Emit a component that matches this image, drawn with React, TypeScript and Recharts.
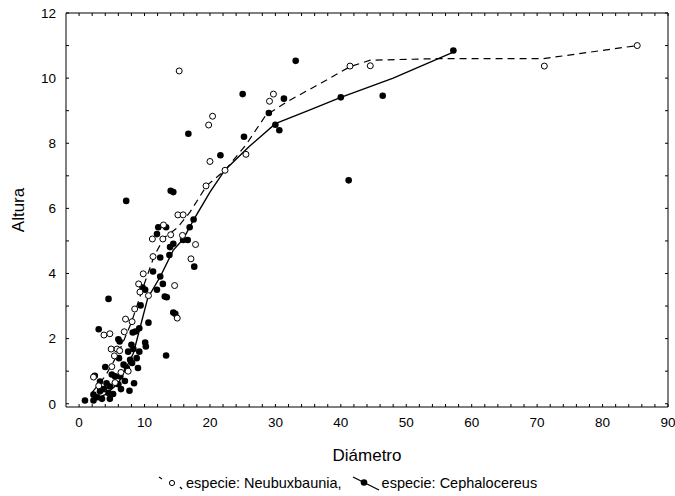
import React from 'react';
import { ScatterChart, Scatter, XAxis, YAxis } from 'recharts';

interface Pt {
	x: number;
	y: number;
}

// especie: Neubuxbaunia (open circles)
const neubuxX = [
	85.3, 71.1, 41.4, 44.5, 15.3, 29.7, 29.1, 20.4, 19.8, 25.5, 20.0, 22.3, 19.4,
	15.1, 15.9, 12.9, 11.2, 12.8, 14.0, 15.8, 17.8, 11.3, 17.1, 9.8, 9.1, 14.6,
	10.6, 9.3, 15.0, 8.5, 7.1, 8.1, 3.8, 4.7, 6.9, 4.9, 5.8, 6.2, 5.4, 5.0, 6.4,
	2.2, 3.0, 5.5, 7.5,
];
const neubuxY = [
	11.0, 10.37, 10.37, 10.38, 10.22, 9.51, 9.29, 8.83, 8.56, 7.66, 7.44, 7.17,
	6.69, 5.8, 5.8, 5.49, 5.06, 5.06, 5.19, 5.17, 4.89, 4.52, 4.45, 3.99, 3.68,
	3.63, 3.32, 3.43, 2.63, 2.91, 2.6, 2.52, 2.11, 2.15, 2.21, 1.68, 1.68, 1.63,
	1.47, 1.14, 0.96, 0.82, 0.55, 0.65, 1.0,
];

// especie: Cephalocereus (filled circles)
const cephaloX = [
	57.2, 40.0, 46.4, 41.2, 33.1, 25.0, 31.3, 16.7, 29.0, 30.0, 30.6, 25.2, 21.6,
	14.0, 14.4, 17.5, 7.2, 12.1, 13.3, 11.9, 16.9, 15.9, 16.6, 14.4, 13.9, 12.4,
	13.8, 17.6, 11.3, 12.4, 9.7, 10.1, 12.8, 13.1, 13.4, 4.5, 11.9, 9.4, 14.4,
	14.7, 10.6, 3.0, 8.2, 8.6, 9.2, 6.0, 6.2, 8.0, 8.3, 7.5, 10.1, 10.2, 9.2, 6.1,
	13.3, 7.8, 8.1, 4.0, 6.8, 7.3, 5.5, 6.3, 2.4, 8.4, 3.2, 4.2, 4.7, 5.2, 6.4,
	7.7, 2.2, 3.2, 4.5, 0.9, 2.2, 4.7, 3.5, 6.0, 7.0, 5.0, 3.8, 2.8, 9.0, 8.8,
];
const cephaloY = [
	10.85, 9.41, 9.46, 6.86, 10.53, 9.51, 9.37, 8.29, 8.93, 8.57, 8.4, 8.2, 7.63,
	6.54, 6.5, 5.66, 6.23, 5.42, 5.42, 5.21, 5.42, 5.03, 5.03, 4.91, 4.81, 4.49,
	4.57, 4.21, 4.06, 3.91, 3.57, 3.5, 3.68, 3.29, 3.27, 3.22, 3.5, 3.02, 2.8,
	2.76, 2.49, 2.29, 2.19, 2.22, 2.32, 1.98, 1.91, 1.81, 1.68, 1.6, 1.88, 1.76,
	1.6, 1.4, 1.48, 1.35, 1.25, 1.13, 1.2, 1.1, 0.84, 0.84, 0.86, 0.63, 0.68,
	0.63, 0.53, 0.3, 0.45, 0.4, 0.28, 0.38, 0.33, 0.1, 0.1, 0.15, 0.15, 0.6, 0.7,
	0.9, 0.45, 0.2, 1.1, 1.4,
];

// fitted curves
const neubuxFitX = [2, 4, 6, 8, 10, 11.5, 13, 15, 17, 19.5, 22.3, 25.5, 28.5, 32, 37, 41.4, 44.5, 55, 71, 85.3];
const neubuxFitY = [0.35, 0.85, 1.55, 2.5, 3.7, 4.55, 5.1, 5.4, 5.9, 6.7, 7.17, 7.95, 8.85, 9.3, 9.85, 10.35, 10.55, 10.6, 10.6, 11.0];
const cephaloFitX = [2, 4, 6, 8.3, 10.5, 12.4, 14.4, 15.9, 17.5, 20, 22.3, 26, 30, 35, 40, 48, 57.2];
const cephaloFitY = [0.1, 0.28, 0.63, 1.55, 3.25, 3.9, 4.72, 5.05, 5.65, 6.5, 7.18, 7.9, 8.6, 9.0, 9.41, 10.0, 10.8];

const xTicks = [0, 2, 4, 6, 8, 10, 12, 14, 16, 18, 20, 22, 24, 26, 28, 30, 32, 34, 36, 38, 40, 42, 44, 46, 48, 50, 52, 54, 56, 58, 60, 62, 64, 66, 68, 70, 72, 74, 76, 78, 80, 82, 84, 86, 88, 90];
const yTicks = [0, 1, 2, 3, 4, 5, 6, 7, 8, 9, 10, 11, 12];

const zip = (xs: number[], ys: number[]): Pt[] => xs.map((x, i) => ({ x, y: ys[i] }));

const neubux = zip(neubuxX, neubuxY);
const cephalo = zip(cephaloX, cephaloY);
const neubuxFit = zip(neubuxFitX, neubuxFitY);
const cephaloFit = zip(cephaloFitX, cephaloFitY);

const FONT = '"Liberation Sans", Arial, sans-serif';
const M = 10;

const BottomTick = (props: any) => {
	const { x, y, payload } = props;
	const ay = y - M;
	const major = payload.value % 10 === 0;
	return (
		<g>
			<line x1={x} x2={x} y1={ay} y2={ay - 3} stroke="#000" />
			{major && (
				<text x={x} y={y} dy="0.71em" textAnchor="middle" fontSize={13.5} fill="#000" fontFamily={FONT}>
					{payload.value}
				</text>
			)}
		</g>
	);
};

const LeftTick = (props: any) => {
	const { x, y, payload } = props;
	const ax = x + M;
	const major = payload.value % 2 === 0;
	return (
		<g>
			<line x1={ax} x2={ax + 3} y1={y} y2={y} stroke="#000" />
			{major && (
				<text x={x} y={y} dy="0.355em" textAnchor="end" fontSize={13.5} fill="#000" fontFamily={FONT}>
					{payload.value}
				</text>
			)}
		</g>
	);
};

const TopTick = (props: any) => {
	const { x, y } = props;
	return <line x1={x} x2={x} y1={y} y2={y + 3} stroke="#000" />;
};

const RightTick = (props: any) => {
	const { x, y } = props;
	return <line x1={x} x2={x - 3} y1={y} y2={y} stroke="#000" />;
};

const OpenDot = (props: any) => {
	const { cx, cy } = props;
	if (cx == null || cy == null) return null;
	return <circle cx={cx} cy={cy} r={3} fill="#fff" stroke="#000" strokeWidth={1} />;
};

const FilledDot = (props: any) => {
	const { cx, cy } = props;
	if (cx == null || cy == null) return null;
	return <circle cx={cx} cy={cy} r={3.3} fill="#000" />;
};

const NoDot = () => null;

const AlturaLabel = (props: any) => {
	const { viewBox } = props;
	const cy = viewBox.y + viewBox.height / 2;
	return (
		<text
			x={18}
			y={cy}
			transform={`rotate(-90, 18, ${cy})`}
			textAnchor="middle"
			dominantBaseline="central"
			fontSize={17}
			fill="#000"
			fontFamily={FONT}
		>
			Altura
		</text>
	);
};

export default function App() {
	return (
		<div style={{ position: 'absolute', left: 0, top: 0, width: 675, height: 496, background: '#fff', fontFamily: FONT }}>
			<ScatterChart width={675} height={496} margin={{ top: 12, right: 6, left: 0, bottom: 33 }}>
				<XAxis
					dataKey="x"
					type="number"
					domain={[-2, 90]}
					ticks={xTicks}
					interval={0}
					height={56}
					tickSize={0}
					tickMargin={M}
					tickLine={false}
					tick={<BottomTick />}
					stroke="#000"
					label={{ value: 'Diámetro', position: 'insideBottom', offset: 2, fontSize: 17, fill: '#000', fontFamily: FONT }}
				/>
				<XAxis
					xAxisId="top"
					orientation="top"
					dataKey="x"
					type="number"
					domain={[-2, 90]}
					ticks={xTicks}
					interval={0}
					height={1}
					tickSize={0}
					tickMargin={0}
					tickLine={false}
					tick={<TopTick />}
					stroke="#000"
				/>
				<YAxis
					dataKey="y"
					type="number"
					domain={[-0.1, 12]}
					ticks={yTicks}
					interval={0}
					width={66}
					tickSize={0}
					tickMargin={M}
					tickLine={false}
					tick={<LeftTick />}
					stroke="#000"
					label={<AlturaLabel />}
				/>
				<YAxis
					yAxisId="right"
					orientation="right"
					dataKey="y"
					type="number"
					domain={[-0.1, 12]}
					ticks={yTicks}
					interval={0}
					width={1}
					tickSize={0}
					tickMargin={0}
					tickLine={false}
					tick={<RightTick />}
					stroke="#000"
				/>
				<Scatter
					data={neubuxFit}
					xAxisId="top"
					yAxisId="right"
					line={{ stroke: '#000', strokeWidth: 1.2, strokeDasharray: '7 5' }}
					shape={<NoDot />}
					isAnimationActive={false}
				/>
				<Scatter data={cephaloFit} line={{ stroke: '#000', strokeWidth: 1.4 }} shape={<NoDot />} isAnimationActive={false} />
				<Scatter data={cephalo} shape={<FilledDot />} isAnimationActive={false} />
				<Scatter data={neubux} shape={<OpenDot />} isAnimationActive={false} />
			</ScatterChart>
			<div
				style={{
					position: 'absolute',
					left: 156,
					top: 474,
					display: 'flex',
					alignItems: 'center',
					fontSize: 14.5,
					color: '#000',
					whiteSpace: 'nowrap',
				}}
			>
				<svg width={30} height={18}>
					<line x1={3} y1={3} x2={6} y2={5} stroke="#000" strokeWidth={1.2} />
					<circle cx={16} cy={9} r={2.6} fill="#fff" stroke="#000" />
					<line x1={24} y1={13} x2={26} y2={15} stroke="#000" strokeWidth={1.2} />
				</svg>
				<span>especie: Neubuxbaunia,</span>
				<svg width={32} height={18} style={{ marginLeft: 8 }}>
					<line x1={3} y1={3} x2={29} y2={16} stroke="#000" strokeWidth={1.3} />
					<circle cx={14} cy={8.5} r={3.3} fill="#000" />
				</svg>
				<span>especie: Cephalocereus</span>
			</div>
		</div>
	);
}
